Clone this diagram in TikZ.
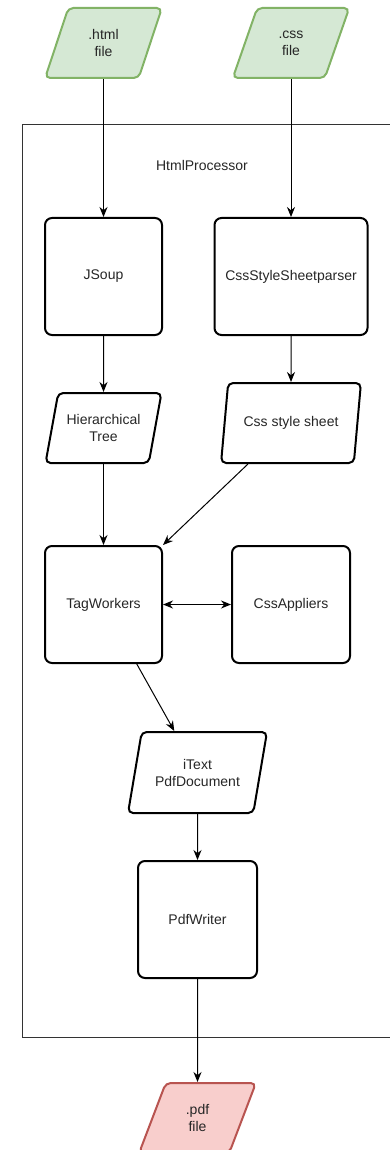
\documentclass[tikz,border=0pt]{standalone}
\usepackage{fontspec}
\setmainfont{Liberation Sans}
\usetikzlibrary{shapes.geometric, arrows.meta}

\definecolor{infill}{HTML}{D5E8D4}
\definecolor{inline}{HTML}{82B366}
\definecolor{outfill}{HTML}{F8CECC}
\definecolor{outline}{HTML}{B85450}

\begin{document}
\begin{tikzpicture}[x = 1pt, y = -1pt, > = {Stealth[length = 10pt, width = 8pt]},
	every node/.style = {font = \fontsize{14}{17}\selectfont, align = center, text = black!85},
	process/.style = {draw = black, line width = 2pt, rounded corners = 7pt, minimum width = 117pt, minimum height = 117pt},
	data/.style = {trapezium, trapezium left angle = 70, trapezium right angle = 110, trapezium stretches = true, draw = black, line width = 2pt, rounded corners = 5pt, minimum width = 117pt, minimum height = 70pt, inner sep = 1pt},
	flow/.style = {->, line width = 1pt}]

	\useasboundingbox (0, 0) rectangle (389, 1150);

	% Frame
	
	\draw [line width = 1pt, black!80] (22, 125) rectangle (430, 1037);
	\node (frame) at (202, 165) {HtmlProcessor};
	
	% Files
	
	\node [data, fill = infill, draw = inline] (html) at (103.5, 43) {.html\\file};
	\node [data, fill = infill, draw = inline] (css) at (291, 43) {.css\\file};
	\node [data, fill = outfill, draw = outline] (pdf) at (197.5, 1118) {.pdf\\file};
	
	% Steps
	
	\node [process] (jsoup) at (103.5, 276.5) {JSoup};
	\node [process, minimum width = 153pt] (parser) at (291, 276.5) {CssStyleSheetparser};
	\node [data] (tree) at (103.5, 428) {Hierarchical\\Tree};
	\node [data, minimum width = 140pt, minimum height = 80pt] (sheet) at (291, 423) {Css style sheet};
	\node [process] (tagworkers) at (103.5, 604.5) {TagWorkers};
	\node [process, minimum width = 118pt] (appliers) at (291, 604.5) {CssAppliers};
	\node [data, minimum width = 139pt, minimum height = 81pt] (itext) at (197.5, 772.5) {iText\\PdfDocument};
	\node [process, minimum width = 119pt] (writer) at (197.5, 919.5) {PdfWriter};
	
	% Flow
	
	\draw [flow] (html) -- (jsoup);
	\draw [flow] (css) -- (parser);
	\draw [flow] (jsoup) -- (tree);
	\draw [flow] (parser) -- (sheet);
	\draw [flow] (tree) -- (tagworkers);
	\draw [flow] (sheet) -- (tagworkers.north east);
	\draw [flow, <->] (tagworkers) -- (appliers);
	\draw [flow] (tagworkers) -- (itext);
	\draw [flow] (itext) -- (writer);
	\draw [flow] (writer) -- (pdf);

\end{tikzpicture}
\end{document}
